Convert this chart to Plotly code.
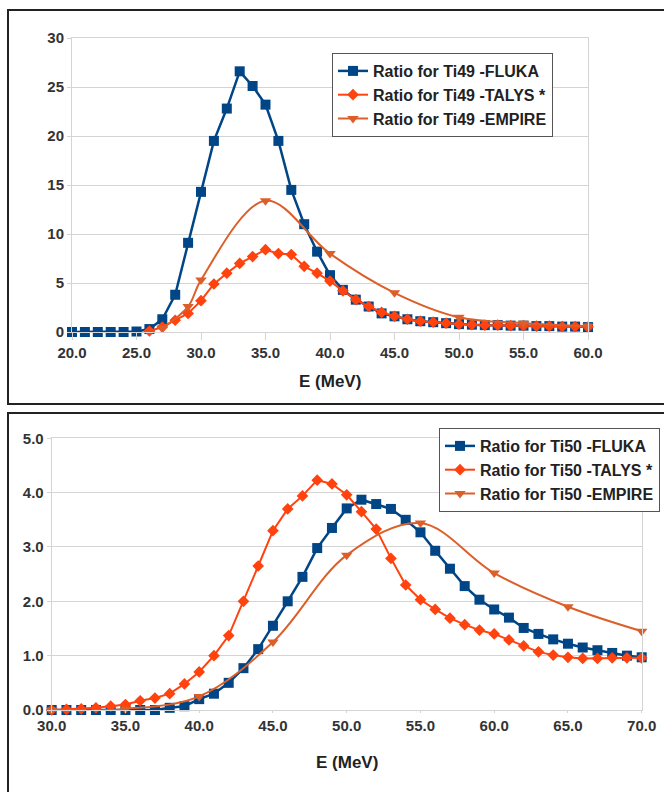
import plotly.graph_objects as go

W, H = 664, 792

# ---------------- Data: top panel (Ti49) ----------------
e49_fluka = list(range(20, 61))
r49_fluka = [0.0, 0.0, 0.0, 0.0, 0.0, 0.05, 0.3, 1.3, 3.8, 9.1,
             14.3, 19.5, 22.8, 26.6, 25.1, 23.2, 19.5, 14.5, 11.0, 8.2,
             5.8, 4.3, 3.3, 2.6, 1.9, 1.6, 1.3, 1.1, 1.0, 0.9,
             0.8, 0.75, 0.7, 0.7, 0.65, 0.65, 0.6, 0.6, 0.55, 0.55, 0.5]

e49_talys = list(range(26, 61))
r49_talys = [0.1, 0.5, 1.2, 1.9, 3.2, 4.9, 6.0, 7.0, 7.7, 8.4,
             8.0, 7.9, 6.7, 6.0, 5.2, 4.2, 3.3, 2.6, 2.0, 1.6,
             1.3, 1.1, 1.0, 0.9, 0.8, 0.75, 0.7, 0.7, 0.65, 0.65,
             0.6, 0.6, 0.55, 0.55, 0.5]

e49_empire = [27, 29, 30, 35, 40, 45, 50, 55, 60]
r49_empire = [0.4, 2.6, 5.3, 13.4, 8.0, 4.0, 1.5, 0.9, 0.6]

# ---------------- Data: bottom panel (Ti50) ----------------
e50_fluka = list(range(30, 71))
r50_fluka = [0.0, 0.0, 0.0, 0.0, 0.0, 0.0, 0.0, 0.0, 0.04, 0.07,
             0.2, 0.3, 0.5, 0.77, 1.12, 1.55, 2.0, 2.45, 2.98, 3.35,
             3.71, 3.87, 3.79, 3.7, 3.5, 3.27, 2.93, 2.6, 2.28, 2.03,
             1.85, 1.7, 1.51, 1.4, 1.3, 1.22, 1.15, 1.1, 1.05, 1.0, 0.97]

e50_talys = list(range(30, 71))
r50_talys = [0.0, 0.01, 0.02, 0.04, 0.07, 0.1, 0.17, 0.22, 0.3, 0.48,
             0.7, 1.0, 1.37, 2.0, 2.65, 3.3, 3.7, 3.94, 4.23, 4.16,
             3.96, 3.65, 3.33, 2.79, 2.3, 2.03, 1.85, 1.69, 1.57, 1.47,
             1.4, 1.29, 1.18, 1.07, 1.01, 0.97, 0.95, 0.95, 0.96, 0.96, 0.96]

e50_empire = [30, 35, 40, 45, 50, 55, 60, 65, 70]
r50_empire = [0.0, 0.02, 0.25, 1.25, 2.85, 3.44, 2.52, 1.9, 1.45]

names49 = ["Ratio for Ti49 -FLUKA", "Ratio for Ti49 -TALYS *", "Ratio for Ti49 -EMPIRE"]
names50 = ["Ratio for Ti50 -FLUKA", "Ratio for Ti50 -TALYS *", "Ratio for Ti50 -EMPIRE"]

x49_ticks = [20, 25, 30, 35, 40, 45, 50, 55, 60]
y49_ticks = [0, 5, 10, 15, 20, 25, 30]
x50_ticks = [30, 35, 40, 45, 50, 55, 60, 65, 70]
y50_ticks = [0, 1, 2, 3, 4, 5]

BLUE = "#004586"
ORANGE = "#ff420e"
EMPIRE_C = "#dc5f2a"
FONT = "Liberation Sans"


def px(x):
    return x / W


def py(y):
    return 1 - y / H


fig = go.Figure()

styles = [
    dict(color=BLUE, symbol="square", size=10, width=2.5, shape="linear"),
    dict(color=ORANGE, symbol="diamond", size=9, width=2, shape="linear"),
    dict(color=EMPIRE_C, symbol="triangle-down", size=10, width=2, shape="spline"),
]

top_sets = [(e49_fluka, r49_fluka), (e49_talys, r49_talys), (e49_empire, r49_empire)]
bot_sets = [(e50_fluka, r50_fluka), (e50_talys, r50_talys), (e50_empire, r50_empire)]

for (xs, ys), nm, st in zip(top_sets, names49, styles):
    fig.add_trace(go.Scatter(
        x=xs, y=ys, name="<b>" + nm + "</b>", mode="lines+markers",
        line=dict(color=st["color"], width=st["width"], shape=st["shape"]),
        marker=dict(color=st["color"], symbol=st["symbol"], size=st["size"]),
        xaxis="x", yaxis="y", legend="legend", cliponaxis=False))

for (xs, ys), nm, st in zip(bot_sets, names50, styles):
    fig.add_trace(go.Scatter(
        x=xs, y=ys, name="<b>" + nm + "</b>", mode="lines+markers",
        line=dict(color=st["color"], width=st["width"], shape=st["shape"]),
        marker=dict(color=st["color"], symbol=st["symbol"], size=st["size"]),
        xaxis="x2", yaxis="y2", legend="legend2", cliponaxis=False))

grid = "#d4d4d4"
tickfont = dict(family=FONT, size=15, color="#333333", weight="bold")

common = dict(showline=True, linecolor=grid, linewidth=1, mirror=True, zeroline=False,
              ticks="outside", tickcolor=grid, tickfont=tickfont, automargin=False)
xcommon = dict(showgrid=False, **common)
ycommon = dict(showgrid=True, gridcolor=grid, gridwidth=1, **common)

legfont = dict(family=FONT, size=16, color="#222222")

fig.update_layout(
    width=W, height=H,
    margin=dict(l=0, r=0, t=0, b=0),
    paper_bgcolor="white", plot_bgcolor="white",
    showlegend=True,
    xaxis=dict(domain=[px(72), px(588)], range=[20, 60], tickvals=x49_ticks,
               ticktext=[f"{v:.1f}" for v in x49_ticks], anchor="y", ticklen=7, **xcommon),
    yaxis=dict(domain=[py(332), py(38)], range=[0, 30], tickvals=y49_ticks,
               ticktext=[str(v) for v in y49_ticks], anchor="x", ticklen=4, **ycommon),
    xaxis2=dict(domain=[px(51.7), px(641.7)], range=[30, 70], tickvals=x50_ticks,
                ticktext=[f"{v:.1f}" for v in x50_ticks], anchor="y2", ticklen=2, **xcommon),
    yaxis2=dict(domain=[py(710), py(438.3)], range=[0, 5], tickvals=y50_ticks,
                ticktext=[f"{v:.1f}" for v in y50_ticks], anchor="x2", ticklen=4, **ycommon),
    legend=dict(x=px(332), y=py(53), xanchor="left", yanchor="top",
                bgcolor="white", bordercolor="#555555", borderwidth=1,
                font=legfont, itemwidth=30, tracegroupgap=0),
    legend2=dict(x=px(439), y=py(428), xanchor="left", yanchor="top",
                 bgcolor="white", bordercolor="#555555", borderwidth=1,
                 font=legfont, itemwidth=30, tracegroupgap=0),
    shapes=[
        dict(type="rect", xref="paper", yref="paper", x0=px(8), x1=1.02,
             y0=py(404), y1=py(10), line=dict(color="#222222", width=2), layer="below"),
        dict(type="rect", xref="paper", yref="paper", x0=px(8), x1=1.02,
             y0=-0.02, y1=py(413), line=dict(color="#222222", width=2), layer="below"),
    ],
    annotations=[
        dict(text="<b>E (MeV)</b>", xref="paper", yref="paper", x=px(330), y=py(381),
             showarrow=False, font=dict(family=FONT, size=17, color="#222222"),
             xanchor="center", yanchor="middle"),
        dict(text="<b>E (MeV)</b>", xref="paper", yref="paper", x=px(347), y=py(762),
             showarrow=False, font=dict(family=FONT, size=17, color="#222222"),
             xanchor="center", yanchor="middle"),
    ],
)

fig.write_html(
    "out.html",
    config={"displayModeBar": False},
    post_script="document.body.style.margin='0';document.body.style.overflow='hidden';",
)
